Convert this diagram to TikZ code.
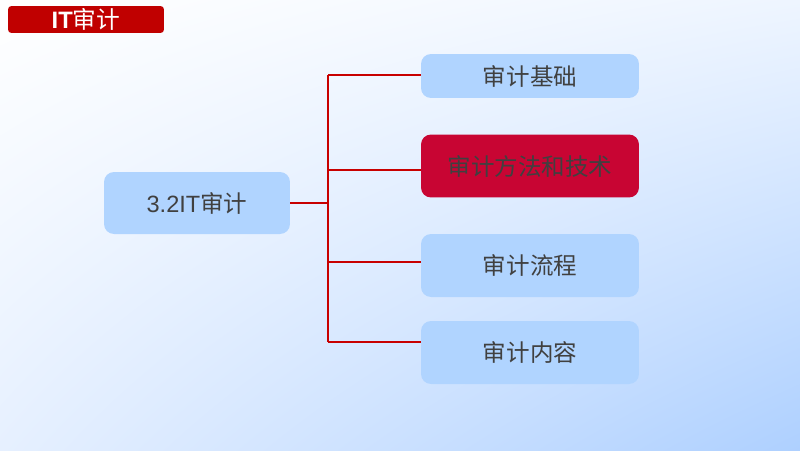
\documentclass[tikz,border=0pt]{standalone}
\usepackage{fontspec}
\setmainfont{Liberation Sans}
\newfontfamily\cjk{Noto Sans CJK SC}
\usetikzlibrary{positioning,shadings}

\definecolor{titlered}{HTML}{C00000}
\definecolor{boxblue}{HTML}{B0D4FF}
\definecolor{hotred}{HTML}{C80533}
\definecolor{linered}{HTML}{C80000}
\definecolor{textgray}{HTML}{404040}
\definecolor{bgtr}{HTML}{EEF5FF}
\definecolor{bgbl}{HTML}{E6F0FF}
\definecolor{bgbr}{HTML}{AED0FF}

\tikzset{
  topic/.style={fill=boxblue, rounded corners=0.2cm, text=textgray,
    font=\fontsize{13.4}{15}\selectfont, inner sep=0pt},
  leaf/.style={topic, minimum width=4.36cm, minimum height=1.26cm},
  link/.style={draw=linered, line width=1.3pt}
}

\begin{document}
\begin{tikzpicture}[x=0.02cm, y=-0.02cm]
  \useasboundingbox (0,0) rectangle (800,450);
  \shade[upper left=white, upper right=bgtr, lower left=bgbl, lower right=bgbr]
    (0,0) rectangle (800,450);

  % title
  \node[fill=titlered, rounded corners=2pt, text=white, inner sep=0pt,
    minimum width=3.12cm, minimum height=0.54cm,
    font=\fontsize{13.5}{15}\selectfont] (title) at (86,19.5) {\textbf{IT}\cjk 审计};

  \node[topic, minimum width=3.72cm, minimum height=1.24cm] (root) at (197,203) {3.2IT{\cjk 审计}};

  \node[leaf, minimum height=0.88cm] (b1) at (530,76) {\cjk 审计基础};
  \node[leaf, fill=hotred] (b2) at (530,166) {\cjk 审计方法和技术};
  \node[leaf] (b3) at (530,265.5) {\cjk 审计流程};
  \node[leaf] (b4) at (530,352.5) {\cjk 审计内容};

  \coordinate (hub) at (328,203);
  \coordinate (j1) at (328,75);
  \coordinate (j2) at (328,170);
  \coordinate (j3) at (328,262);
  \coordinate (j4) at (328,342);

  \draw[link] (root.east) -- (hub);
  \draw[link] (j1) -- (j4);
  \draw[link] (j1) -- (j1 -| b1.west);
  \draw[link] (j2) -- (j2 -| b2.west);
  \draw[link] (j3) -- (j3 -| b3.west);
  \draw[link] (j4) -- (j4 -| b4.west);
\end{tikzpicture}
\end{document}
